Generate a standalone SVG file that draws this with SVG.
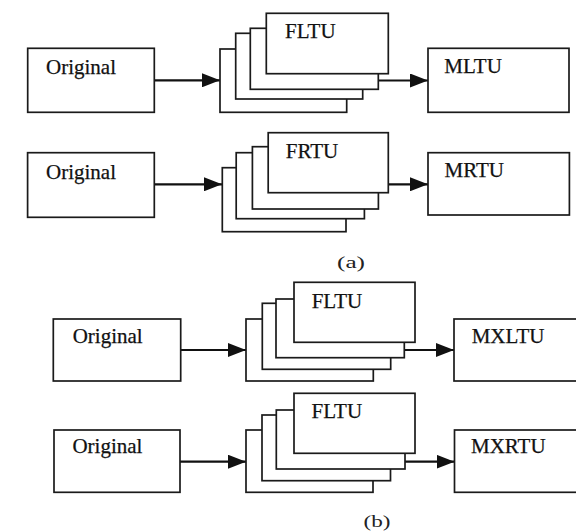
<svg xmlns="http://www.w3.org/2000/svg" width="576" height="532" viewBox="0 0 576 532">
<defs>
<style>
.b{fill:#fff;stroke:#1a1a1a;stroke-width:1.7}
.t{font-family:"Liberation Serif","Times New Roman",serif;font-size:21px;fill:#111;stroke:#111;stroke-width:0.25}
.c{font-family:"Liberation Serif","Times New Roman",serif;font-size:16px;fill:#222}
.a{stroke:#111;stroke-width:2.2;fill:none;marker-end:url(#ah)}
</style>
<marker id="ah" markerUnits="userSpaceOnUse" markerWidth="18" markerHeight="14" refX="18" refY="7" orient="auto">
<path d="M0,0 L18,7 L0,14 z" fill="#111"/>
</marker>
</defs>
<rect width="576" height="532" fill="#fff"/>

<g id="connectors">
<line class="a" x1="154.3" y1="80.3" x2="220" y2="80.3"/>
<line class="a" x1="378.3" y1="80.5" x2="428" y2="80.5"/>
<line class="a" x1="154.3" y1="184.3" x2="222" y2="184.3"/>
<line class="a" x1="388.3" y1="184.3" x2="428" y2="184.3"/>
<line class="a" x1="180.7" y1="350" x2="246" y2="350"/>
<line class="a" x1="404.3" y1="350" x2="454" y2="350"/>
<line class="a" x1="180" y1="461.7" x2="246" y2="461.7"/>
<line class="a" x1="405" y1="461.7" x2="454.5" y2="461.7"/>
</g>

<g id="orig1"><rect class="b" x="27.7" y="48.3" width="126.6" height="64"/><text class="t" x="46" y="74.3">Original</text></g>
<g id="fltu1">
<rect class="b" x="220" y="49" width="126.7" height="63.3"/>
<rect class="b" x="235.7" y="33.3" width="127" height="65.7"/>
<rect class="b" x="250.3" y="28.3" width="128" height="61"/>
<rect class="b" x="266.3" y="13.3" width="122" height="60.4"/>
<text class="t" x="285" y="37.7">FLTU</text>
</g>
<g id="mltu"><rect class="b" x="428" y="48.3" width="141" height="64"/><text class="t" x="444.3" y="73.3">MLTU</text></g>

<g id="orig2"><rect class="b" x="27.6" y="152.7" width="126.7" height="64.6"/><text class="t" x="46" y="179">Original</text></g>
<g id="frtu">
<rect class="b" x="222.3" y="167.7" width="123.7" height="64"/>
<rect class="b" x="236.2" y="152.7" width="128.2" height="66"/>
<rect class="b" x="252.4" y="146.7" width="126" height="62.3"/>
<rect class="b" x="268.2" y="132.7" width="120.1" height="60"/>
<text class="t" x="285.8" y="158.3">FRTU</text>
</g>
<g id="mrtu"><rect class="b" x="428" y="152.7" width="141.4" height="62.3"/><text class="t" x="444.5" y="176.7">MRTU</text></g>
<text id="label-a" class="c" x="337" y="267.5" textLength="28" lengthAdjust="spacingAndGlyphs">(a)</text>

<g id="orig3"><rect class="b" x="53.3" y="319" width="127.4" height="62"/><text class="t" x="72.7" y="343.3">Original</text></g>
<g id="fltu3">
<rect class="b" x="246" y="319" width="127.3" height="62"/>
<rect class="b" x="262.3" y="303.3" width="128.4" height="66"/>
<rect class="b" x="276" y="299" width="128.3" height="58.7"/>
<rect class="b" x="294" y="282.3" width="121" height="60"/>
<text class="t" x="311.7" y="308.3">FLTU</text>
</g>
<g id="mxltu"><rect class="b" x="454" y="319" width="140" height="62"/><text class="t" x="471.7" y="343.3">MXLTU</text></g>

<g id="orig4"><rect class="b" x="54" y="430" width="126" height="62.3"/><text class="t" x="72.4" y="453.3">Original</text></g>
<g id="fltu4">
<rect class="b" x="246" y="430" width="127" height="62.3"/>
<rect class="b" x="262" y="415" width="128.5" height="65.7"/>
<rect class="b" x="276.3" y="410" width="128.7" height="59"/>
<rect class="b" x="294" y="393.3" width="121" height="60"/>
<text class="t" x="311.5" y="418.3">FLTU</text>
</g>
<g id="mxrtu"><rect class="b" x="454.5" y="430" width="140" height="62.3"/><text class="t" x="471" y="453.3">MXRTU</text></g>
<text id="label-b" class="c" x="363.5" y="527" textLength="27" lengthAdjust="spacingAndGlyphs">(b)</text>
</svg>
